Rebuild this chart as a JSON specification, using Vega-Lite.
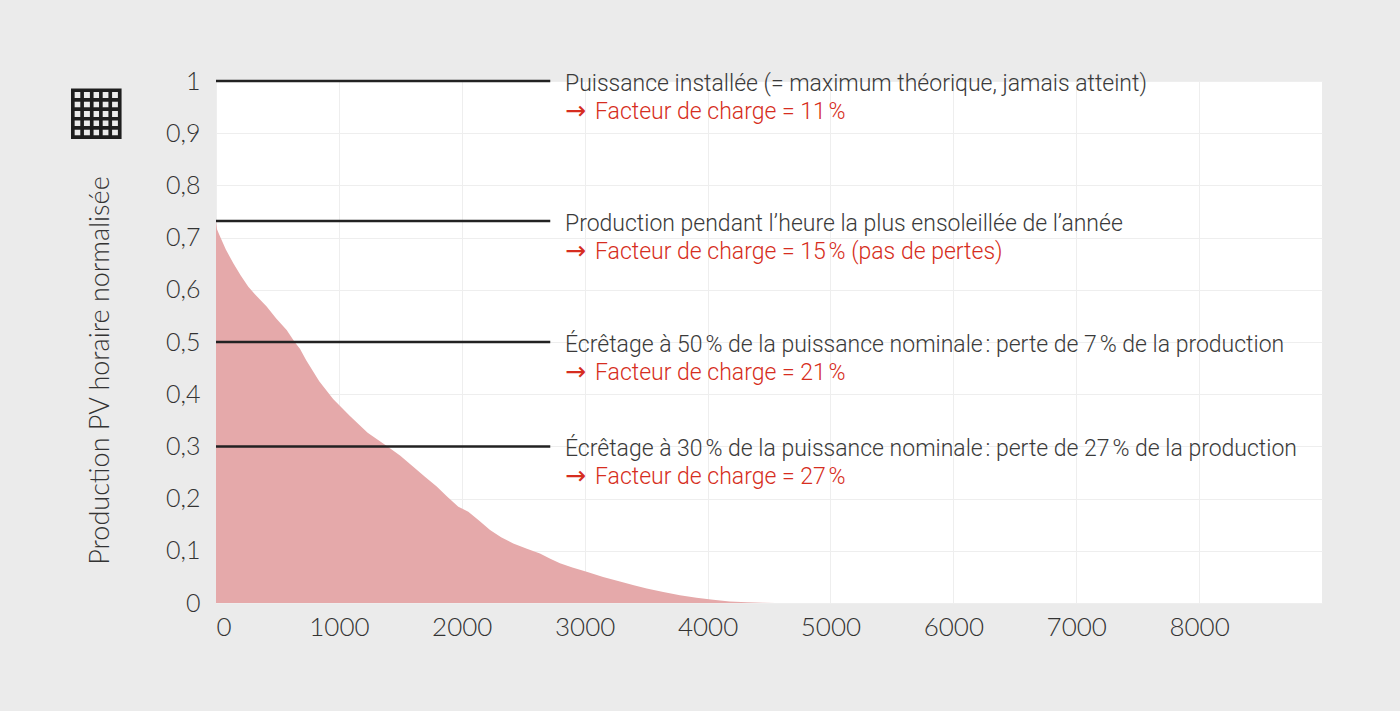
{
  "$schema": "https://vega.github.io/schema/vega-lite/v6.json",
  "width": 1106,
  "height": 522,
  "autosize": {"type": "none"},
  "padding": {"left": 216, "top": 81, "right": 78, "bottom": 108},
  "background": "#ebebeb",
  "datasets": {
    "curve": [
      {"heure": 0, "production": 0.732},
      {"heure": 8, "production": 0.716},
      {"heure": 33, "production": 0.702},
      {"heure": 80, "production": 0.677},
      {"heure": 141, "production": 0.651},
      {"heure": 200, "production": 0.628},
      {"heure": 263, "production": 0.606},
      {"heure": 330, "production": 0.588},
      {"heure": 412, "production": 0.568},
      {"heure": 490, "production": 0.545},
      {"heure": 575, "production": 0.523},
      {"heure": 640, "production": 0.5},
      {"heure": 683, "production": 0.487},
      {"heure": 734, "production": 0.465},
      {"heure": 840, "production": 0.425},
      {"heure": 953, "production": 0.391},
      {"heure": 1090, "production": 0.358},
      {"heure": 1234, "production": 0.326},
      {"heure": 1390, "production": 0.301},
      {"heure": 1500, "production": 0.282},
      {"heure": 1605, "production": 0.261},
      {"heure": 1700, "production": 0.242},
      {"heure": 1796, "production": 0.223},
      {"heure": 1880, "production": 0.204},
      {"heure": 1972, "production": 0.1845},
      {"heure": 2053, "production": 0.175},
      {"heure": 2140, "production": 0.158},
      {"heure": 2230, "production": 0.14},
      {"heure": 2320, "production": 0.126},
      {"heure": 2419, "production": 0.114},
      {"heure": 2530, "production": 0.104},
      {"heure": 2636, "production": 0.095},
      {"heure": 2720, "production": 0.085},
      {"heure": 2799, "production": 0.076},
      {"heure": 2900, "production": 0.068},
      {"heure": 3016, "production": 0.06},
      {"heure": 3150, "production": 0.05},
      {"heure": 3287, "production": 0.041},
      {"heure": 3400, "production": 0.034},
      {"heure": 3505, "production": 0.028},
      {"heure": 3640, "production": 0.021},
      {"heure": 3775, "production": 0.015},
      {"heure": 3910, "production": 0.01},
      {"heure": 4046, "production": 0.006},
      {"heure": 4180, "production": 0.003},
      {"heure": 4318, "production": 0.0013},
      {"heure": 4450, "production": 0.0003},
      {"heure": 4550, "production": 0},
      {"heure": 8760, "production": 0}
    ],
    "notes": [
      {"niveau": 1, "debut": 0, "fin": 2720, "texte_x": 2840,
       "ligne1": "Puissance installée (= maximum théorique, jamais atteint)",
       "ligne2": "Facteur de charge = 11\u202f%"},
      {"niveau": 0.732, "debut": 0, "fin": 2720, "texte_x": 2840,
       "ligne1": "Production pendant l’heure la plus ensoleillée de l’année",
       "ligne2": "Facteur de charge = 15\u202f% (pas de pertes)"},
      {"niveau": 0.5, "debut": 0, "fin": 2720, "texte_x": 2840,
       "ligne1": "Écrêtage à 50\u202f% de la puissance nominale\u202f: perte de 7\u202f% de la production",
       "ligne2": "Facteur de charge = 21\u202f%"},
      {"niveau": 0.3, "debut": 0, "fin": 2720, "texte_x": 2840,
       "ligne1": "Écrêtage à 30\u202f% de la puissance nominale\u202f: perte de 27\u202f% de la production",
       "ligne2": "Facteur de charge = 27\u202f%"}
    ],
    "icone": [
      {"x": -976, "y": 0.9425, "glyphe": "▦"}
    ]
  },
  "layer": [
    {
      "data": {"name": "curve"},
      "mark": {"type": "area", "color": "#e5a9aa", "opacity": 1, "interpolate": "linear"},
      "encoding": {
        "x": {
          "field": "heure",
          "type": "quantitative",
          "scale": {"domain": [0, 9000], "nice": false},
          "axis": {
            "values": [0, 1000, 2000, 3000, 4000, 5000, 6000, 7000, 8000],
            "format": "d",
            "title": null,
            "labelFontSize": 26
          }
        },
        "y": {
          "field": "production",
          "type": "quantitative",
          "scale": {"domain": [0, 1], "nice": false},
          "axis": {
            "values": [0, 0.1, 0.2, 0.3, 0.4, 0.5, 0.6, 0.7, 0.8, 0.9, 1],
            "labelExpr": "replace(format(datum.value, '.1~f'), '.', ',')",
            "labelFontSize": 25,
            "title": "Production PV horaire normalisée",
            "titleX": -116,
            "titleY": 289,
            "titleAngle": -90,
            "titleAlign": "center",
            "titleBaseline": "middle",
            "titleFontSize": 27
          }
        }
      }
    },
    {
      "data": {"name": "notes"},
      "mark": {"type": "rule", "color": "#222222", "strokeWidth": 2.5},
      "encoding": {
        "x": {"field": "debut", "type": "quantitative"},
        "x2": {"field": "fin"},
        "y": {"field": "niveau", "type": "quantitative"}
      }
    },
    {
      "data": {"name": "notes"},
      "mark": {"type": "text", "align": "left", "baseline": "middle", "dy": 3,
               "font": "Roboto", "fontWeight": 300, "fontSize": 23, "color": "#3a3a3a"},
      "encoding": {
        "x": {"field": "texte_x", "type": "quantitative"},
        "y": {"field": "niveau", "type": "quantitative"},
        "text": {"field": "ligne1"}
      }
    },
    {
      "data": {"name": "notes"},
      "mark": {"type": "text", "align": "left", "baseline": "middle", "dy": 30,
               "font": "DejaVu Sans", "fontSize": 25, "color": "#d62d20", "text": "→"},
      "encoding": {
        "x": {"field": "texte_x", "type": "quantitative"},
        "y": {"field": "niveau", "type": "quantitative"}
      }
    },
    {
      "data": {"name": "notes"},
      "mark": {"type": "text", "align": "left", "baseline": "middle", "dy": 31, "dx": 30,
               "font": "Roboto", "fontWeight": 300, "fontSize": 23, "color": "#d62d20"},
      "encoding": {
        "x": {"field": "texte_x", "type": "quantitative"},
        "y": {"field": "niveau", "type": "quantitative"},
        "text": {"field": "ligne2"}
      }
    },
    {
      "data": {"name": "icone"},
      "mark": {"type": "text", "align": "center", "baseline": "middle",
               "font": "DejaVu Sans", "fontWeight": "bold", "fontSize": 66, "color": "#1e1e1e"},
      "encoding": {
        "x": {"field": "x", "type": "quantitative"},
        "y": {"field": "y", "type": "quantitative"},
        "text": {"field": "glyphe"}
      }
    }
  ],
  "config": {
    "view": {"fill": "white", "stroke": null},
    "axis": {
      "domain": false,
      "ticks": false,
      "grid": true,
      "gridColor": "#eeeeee",
      "gridWidth": 1,
      "labelFont": "Lato",
      "labelFontWeight": 300,
      "labelFontSize": 24,
      "labelColor": "#333333",
      "titleFont": "Lato",
      "titleFontWeight": 300,
      "titleFontSize": 24,
      "titleColor": "#333333"
    },
    "axisX": {"labelPadding": 11},
    "axisY": {"labelPadding": 16}
  }
}
